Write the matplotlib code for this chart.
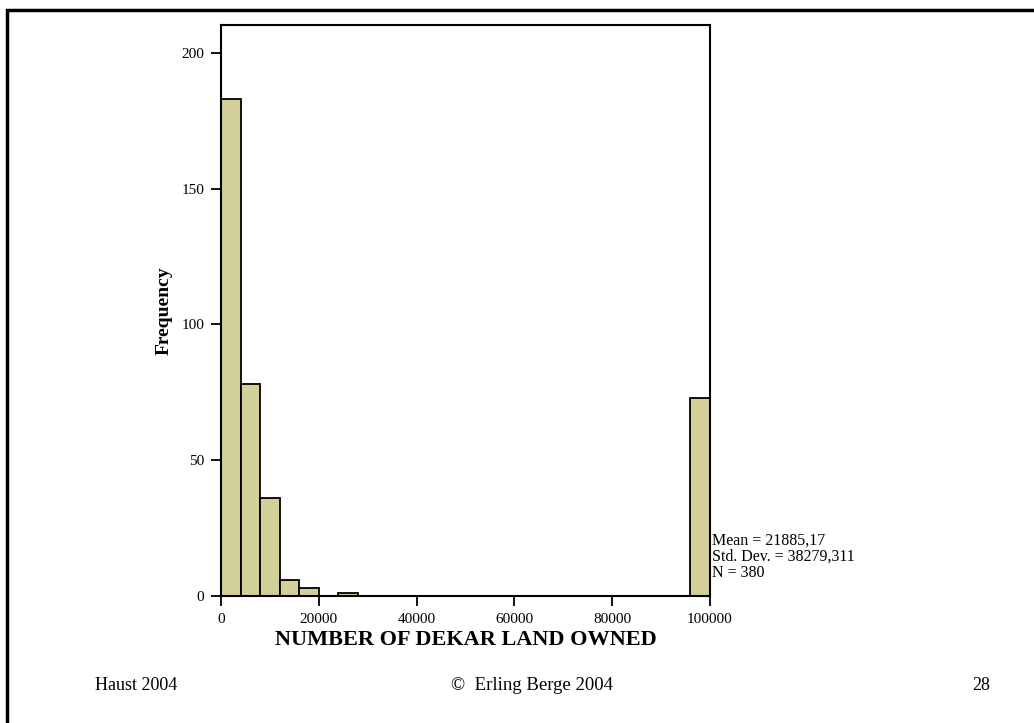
import matplotlib.pyplot as plt
from matplotlib.patches import Rectangle

# histogram bins (dekar) and counts
bin_starts = [0, 4000, 8000, 12000, 16000, 20000, 24000, 96000]
bin_width = 4000
counts = [183, 78, 36, 6, 3, 0, 1, 73]

x_ticks = [0, 20000, 40000, 60000, 80000, 100000]
y_ticks = [0, 50, 100, 150, 200]

stats_lines = ["Mean = 21885,17", "Std. Dev. = 38279,311", "N = 380"]

plt.rcParams["font.family"] = ["Liberation Serif", "DejaVu Serif"]

fig = plt.figure(figsize=(10.34, 7.23), dpi=100)

# slide frame (runs off the right and bottom edge like the original)
fig.patches.append(Rectangle((7 / 1034, -0.05), 1.1, 1 - 10 / 723 + 0.05,
                             transform=fig.transFigure, fill=False,
                             edgecolor="black", linewidth=2.5))

ax = fig.add_axes([221 / 1034, 1 - 596 / 723, 489 / 1034, 571 / 723])
ax.bar(bin_starts, counts, width=bin_width, align="edge",
       color="#D3CF99", edgecolor="black", linewidth=1.3)

ax.set_xlim(0, 100000)
ax.set_ylim(0, 210.3)
ax.set_xticks(x_ticks)
ax.set_yticks(y_ticks)
ax.tick_params(direction="out", length=7, width=1.3, labelsize=11, pad=5)
for s in ax.spines.values():
    s.set_linewidth(1.5)

ax.set_xlabel("NUMBER OF DEKAR LAND OWNED", fontsize=16, fontweight="bold",
              labelpad=3)
ax.set_ylabel("Frequency", fontsize=14, fontweight="bold", labelpad=6)

fig.text(712 / 1034, 1 - 557 / 723, "\n".join(stats_lines), fontsize=11.5,
         ha="left", va="center", linespacing=1.0)

# footer
fig.text(95 / 1034, 1 - 685 / 723, "Haust 2004", fontsize=13, va="center")
fig.text(532 / 1034, 1 - 685 / 723, "\u00a9  Erling Berge 2004", fontsize=13.5,
         ha="center", va="center")
fig.text(990 / 1034, 1 - 685 / 723, "28", fontsize=13, ha="right", va="center")

fig.savefig("out.png", dpi=100)
